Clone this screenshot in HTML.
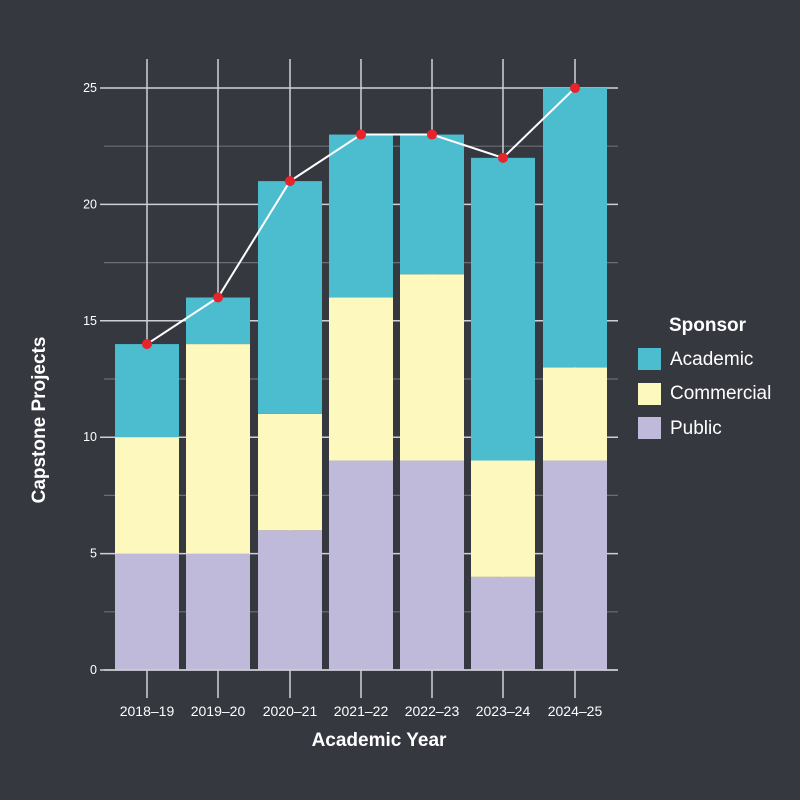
<!DOCTYPE html>
<html><head><style>html,body{margin:0;padding:0;background:#363840;overflow:hidden}svg{display:block}</style></head><body>
<svg width="800" height="800" viewBox="0 0 800 800" xmlns="http://www.w3.org/2000/svg" font-family="Liberation Sans, sans-serif">
<rect width="800" height="800" fill="#363840"/>
<g id="grid"></g>
<g id="bars"></g>
<g id="over"></g>
<text x="45" y="420" fill="#fff" font-size="19" font-weight="bold" text-anchor="middle" transform="rotate(-90 45 420)">Capstone Projects</text>
<text x="379" y="746" fill="#fff" font-size="19" font-weight="bold" text-anchor="middle">Academic Year</text>
<text x="669" y="331" fill="#fff" font-size="19" font-weight="bold">Sponsor</text>
<rect x="638" y="348" width="23" height="22" fill="#4BBDCF"/>
<rect x="638" y="383" width="23" height="22" fill="#FCF8BE"/>
<rect x="638" y="417" width="23" height="22" fill="#C0BADA"/>
<text x="670" y="365" fill="#fff" font-size="19">Academic</text>
<text x="670" y="399" fill="#fff" font-size="19">Commercial</text>
<text x="670" y="434" fill="#fff" font-size="19">Public</text>
</svg>
<script>
var ns="http://www.w3.org/2000/svg";
function el(p,t,a,txt){var e=document.createElementNS(ns,t);for(var k in a)e.setAttribute(k,a[k]);if(txt)e.textContent=txt;document.getElementById(p).appendChild(e);return e;}
function Y(v){return 670-23.28*v;}
var cx=[147,218,290,361,432,503,575];
var labs=["2018–19","2019–20","2020–21","2021–22","2022–23","2023–24","2024–25"];
var d=[[5,5,4],[5,9,2],[6,5,10],[9,7,7],[9,8,6],[4,5,13],[9,4,12]];
for(var i=0;i<=10;i++){var v=i*2.5,maj=i%2==0;
 el("grid","line",{x1:maj?100:104,x2:618,y1:Y(v),y2:Y(v),stroke:maj?"#d0d0d4":"#6c6e75","stroke-width":maj?1.5:1.2});
 if(maj)el("grid","text",{x:97,y:Y(v)+4,fill:"#fff","font-size":12.5,"text-anchor":"end"},String(v));}
cx.forEach(function(x,i){el("grid","line",{x1:x,x2:x,y1:59,y2:698,stroke:"#d0d0d4","stroke-width":1.5});
 el("grid","text",{x:x,y:716,fill:"#fff","font-size":14,"text-anchor":"middle"},labs[i]);
 var c=["#C0BADA","#FCF8BE","#4BBDCF"],b=0;
 d[i].forEach(function(h,j){el("bars","rect",{x:x-32,y:Y(b+h),width:64,height:h*23.28,fill:c[j]});b+=h;});});
el("over","line",{x1:104,x2:618,y1:670,y2:670,stroke:"#d0d0d4","stroke-width":1.5});
var pts=cx.map(function(x,i){return x+","+Y(d[i][0]+d[i][1]+d[i][2]);}).join(" ");
el("over","polyline",{points:pts,fill:"none",stroke:"#fff","stroke-width":2});
cx.forEach(function(x,i){el("over","circle",{cx:x,cy:Y(d[i][0]+d[i][1]+d[i][2]),r:5,fill:"#E8242B"});});
</script>
</body></html>
